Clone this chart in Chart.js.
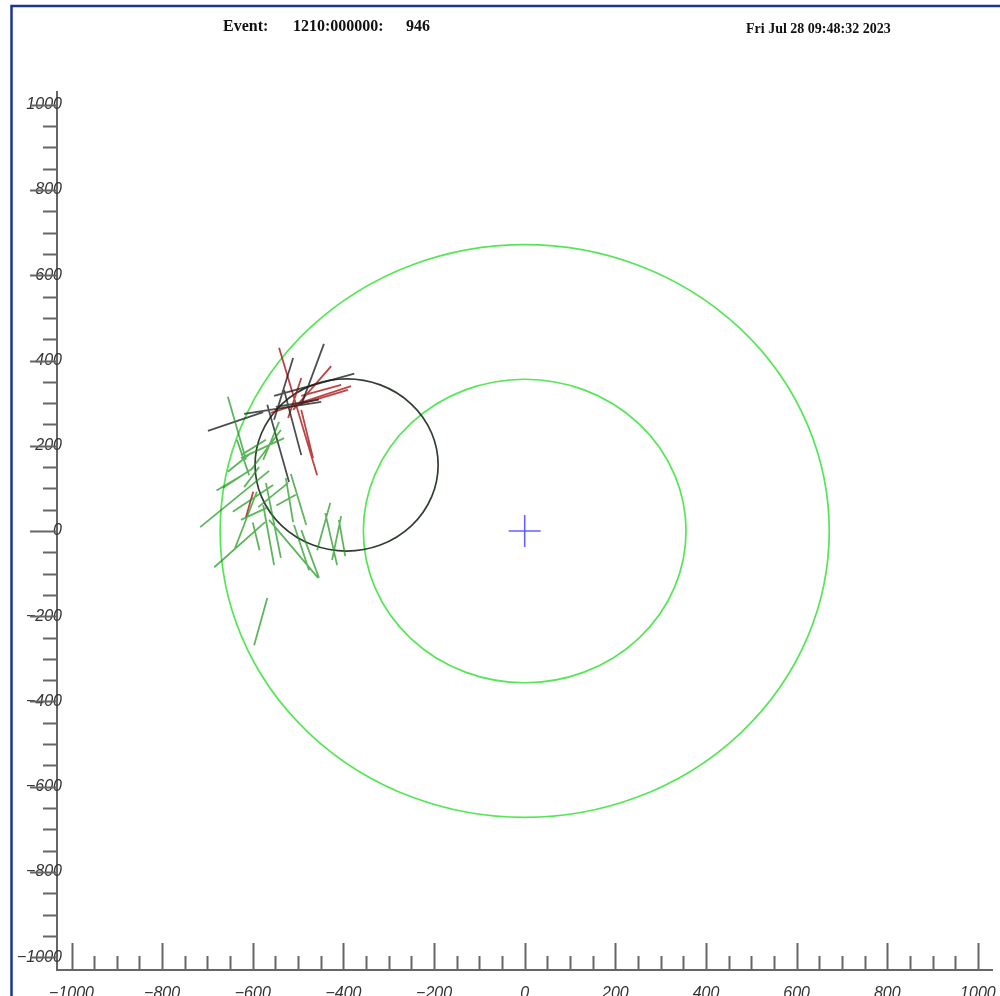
<!DOCTYPE html>
<html lang="en">
<head>
<meta charset="UTF-8">
<title>Event display</title>
<script src="https://cdn.jsdelivr.net/npm/chart.js@4.4.0/dist/chart.umd.min.js"></script>
<style>
    html, body { margin: 0; padding: 0; background: #fff; overflow: hidden; }
    #wrap { width: 1010px; height: 996px; }
</style>
</head>
<body>
<div id="wrap"><canvas id="evChart" width="1010" height="996"></canvas></div>

<script>
    // axis
    var majorTicks = [-1000, -800, -600, -400, -200, 0, 200, 400, 600, 800, 1000];
    var tickLabels = ["\u22121000", "\u2212800", "\u2212600", "\u2212400", "\u2212200", "0",
                      "200", "400", "600", "800", "1000"];

    // track segments: [x1, y1, x2, y2]
    var greenTracks = [
        [-655, 315, -615, 167],
        [-716, 9, -564, 141],
        [-685, -85, -573, 21],
        [-644, 45, -555, 108],
        [-639, -40, -591, 92],
        [-571, 113, -538, -63],
        [-577, 61, -553, -80],
        [-564, 26, -456, -110],
        [-527, 124, -511, 21],
        [-516, 134, -482, 14],
        [-493, 2, -454, -110],
        [-509, 14, -476, -92],
        [-458, -45, -429, 66],
        [-440, 42, -414, -80],
        [-425, -68, -405, 35],
        [-410, 26, -396, -59],
        [-568, -157, -597, -268],
        [-666, 101, -599, 148],
        [-655, 139, -604, 183],
        [-626, 178, -571, 214],
        [-604, 143, -538, 237],
        [-635, 214, -608, 131],
        [-588, 56, -522, 113],
        [-626, 26, -566, 56],
        [-542, 256, -577, 167],
        [-619, 103, -586, 150],
        [-626, 171, -531, 218],
        [-680, 95, -628, 128],
        [-600, 20, -585, -45],
        [-548, 60, -505, 85]
    ];
    var blackTracks = [
        [-699, 235, -577, 279],
        [-619, 275, -449, 303],
        [-553, 317, -376, 369],
        [-443, 439, -493, 296],
        [-511, 406, -553, 261],
        [-531, 331, -493, 178],
        [-568, 296, -520, 115],
        [-549, 291, -454, 308]
    ];
    var redTracks = [
        [-542, 430, -458, 131],
        [-427, 387, -511, 284],
        [-383, 340, -504, 298],
        [-390, 331, -515, 291],
        [-405, 343, -493, 317],
        [-493, 359, -522, 265],
        [-493, 284, -467, 171],
        [-560, 277, -471, 308],
        [-599, 92, -615, 33]
    ];

    // rings: centre and radius
    var ringX = [0, 0, -393];
    var ringY = [0, 0, 155];
    var ringR = [672, 356, 202];
    var ringColor = ['rgb(85,230,85)', 'rgb(85,230,85)', 'rgba(25,40,25,0.9)'];

    var vertex = [{x: 0, y: 0}];

    function toPoints(segs) {
        var pts = [];
        segs.forEach(function (s) {
            pts.push({x: s[0], y: s[1]});
            pts.push({x: s[2], y: s[3]});
            pts.push({x: s[2], y: null});
        });
        return pts;
    }

    function labelFor(v) {
        var i = majorTicks.indexOf(v);
        return i < 0 ? '' : tickLabels[i];
    }

    var eventDisplay = {
        id: 'eventDisplay',
        beforeDraw: function (chart) {
            var ctx = chart.ctx;
            ctx.save();
            ctx.fillStyle = '#fff';
            ctx.fillRect(0, 0, chart.width, chart.height);
            ctx.restore();
        },
        beforeDatasetsDraw: function (chart) {
            var xs = chart.scales.x, ys = chart.scales.y, ctx = chart.ctx;
            ctx.save();
            for (var i = 0; i < ringR.length; i++) {
                var cx = xs.getPixelForValue(ringX[i]);
                var cy = ys.getPixelForValue(ringY[i]);
                var rx = xs.getPixelForValue(ringX[i] + ringR[i]) - cx;
                var ry = cy - ys.getPixelForValue(ringY[i] + ringR[i]);
                ctx.beginPath();
                ctx.ellipse(cx, cy, rx, ry, 0, 0, 2 * Math.PI);
                ctx.strokeStyle = ringColor[i];
                ctx.lineWidth = 1.7;
                ctx.stroke();
            }
            ctx.restore();
        },
        afterDraw: function (chart) {
            var xs = chart.scales.x, ys = chart.scales.y, ctx = chart.ctx;
            var area = chart.chartArea;
            ctx.save();

            // tick marks, 50 apart, longer every 200
            ctx.strokeStyle = '#666';
            ctx.lineWidth = 2;
            for (var v = -1000; v <= 1000; v += 50) {
                var big = (v % 200 === 0);
                var len = big ? 27 : 14;
                var px = Math.round(xs.getPixelForValue(v)) + 0.5;
                var py = Math.round(ys.getPixelForValue(v)) + 0.5;
                ctx.beginPath();
                ctx.moveTo(px, area.bottom);
                ctx.lineTo(px, area.bottom - len);
                ctx.moveTo(area.left, py);
                ctx.lineTo(area.left - len, py);
                ctx.stroke();
            }

            // frame
            ctx.strokeStyle = 'rgb(25,55,145)';
            ctx.lineWidth = 2.5;
            ctx.beginPath();
            ctx.moveTo(11.5, chart.height);
            ctx.lineTo(11.5, 6);
            ctx.lineTo(chart.width, 6);
            ctx.stroke();

            // header
            ctx.fillStyle = '#111';
            ctx.textBaseline = 'middle';
            ctx.font = 'bold 16px "Liberation Serif"';
            ctx.fillText('Event:', 223, 27);
            ctx.fillText('1210:000000:', 293, 27);
            ctx.fillText('946', 406, 27);
            ctx.font = 'bold 14px "Liberation Serif"';
            ctx.fillText('Fri Jul 28 09:48:32 2023', 746, 29);
            ctx.restore();
        }
    };

    var trackStyle = {showLine: true, pointRadius: 0, borderWidth: 1.8, spanGaps: false};

    var ctx = document.getElementById('evChart').getContext('2d');
    var evChart = new Chart(ctx, {
        type: 'scatter',
        data: {
            datasets: [
                Object.assign({label: 'green', data: toPoints(greenTracks), borderColor: 'rgba(25,150,25,0.7)'}, trackStyle),
                Object.assign({label: 'black', data: toPoints(blackTracks), borderColor: 'rgba(30,30,30,0.78)'}, trackStyle),
                Object.assign({label: 'red', data: toPoints(redTracks), borderColor: 'rgba(170,15,15,0.78)'}, trackStyle),
                {
                    label: 'vertex',
                    data: vertex,
                    pointStyle: 'cross',
                    pointRadius: 16,
                    borderWidth: 1.6,
                    borderColor: 'rgba(70,70,255,0.85)'
                }
            ]
        },
        options: {
            responsive: false,
            animation: false,
            devicePixelRatio: 1,
            layout: {padding: {top: 92, right: 0, left: 0, bottom: 0}},
            plugins: {legend: {display: false}, tooltip: {enabled: false}},
            scales: {
                x: {
                    type: 'linear',
                    position: 'bottom',
                    min: -1032,
                    max: 1032,
                    afterBuildTicks: function (axis) {
                        axis.ticks = majorTicks.map(function (v) { return {value: v}; });
                    },
                    afterFit: function (axis) { axis.height = 26; },
                    grid: {display: false},
                    border: {display: true, color: '#666', width: 2},
                    ticks: {
                        padding: 6,
                        color: '#333',
                        maxRotation: 0,
                        autoSkip: false,
                        font: {family: 'Liberation Sans', style: 'italic', size: 16},
                        callback: function (v) { return labelFor(v); }
                    }
                },
                y: {
                    type: 'linear',
                    min: -1030,
                    max: 1030,
                    afterBuildTicks: function (axis) {
                        axis.ticks = majorTicks.map(function (v) { return {value: v}; });
                    },
                    afterFit: function (axis) { axis.width = 57; },
                    grid: {display: false},
                    border: {display: true, color: '#666', width: 2},
                    ticks: {
                        mirror: true,
                        crossAlign: 'far',
                        padding: -40,
                        color: '#333',
                        autoSkip: false,
                        font: {family: 'Liberation Sans', style: 'italic', size: 16},
                        callback: function (v) { return labelFor(v); }
                    }
                }
            }
        },
        plugins: [eventDisplay]
    });
</script>
</body>
</html>
